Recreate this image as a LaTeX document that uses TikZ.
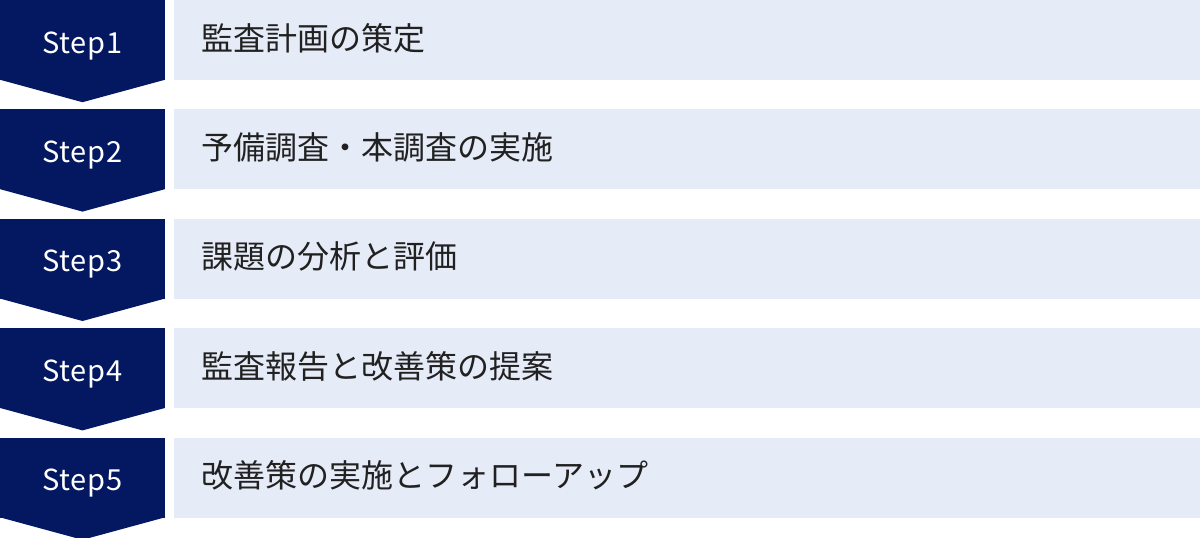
\documentclass[tikz,border=0pt]{standalone}
\usepackage{fontspec}
\setmainfont{Noto Sans CJK JP}
\usetikzlibrary{positioning, calc}
\definecolor{stepnavy}{RGB}{3,24,96}
\definecolor{taskblue}{RGB}{230,235,248}

\begin{document}
\begin{tikzpicture}[
            x=1pt, y=-1pt,
            node distance=29pt and 9pt,
            stepbox/.style={rectangle, fill=stepnavy, text=white, minimum width=165pt, minimum height=80pt, inner sep=0pt, text height=26pt, text depth=0pt, font=\fontsize{29}{34}\selectfont\addfontfeatures{LetterSpace=2.5}},
            taskbox/.style={rectangle, fill=taskblue, text=black!87, minimum height=80pt, inner xsep=27pt, inner ysep=0pt, text width=972pt, text height=24pt, text depth=4pt, align=left, font=\fontsize{32}{38}\selectfont},
            tip/.style={fill=stepnavy}
        ]
        \useasboundingbox (0,0) rectangle (1200,538);

        % Step labels down the left side
        \node[stepbox] (step1) at (82.5,40) {Step1};
        \node[stepbox, below=of step1] (step2) {Step2};
        \node[stepbox, below=of step2] (step3) {Step3};
        \node[stepbox, below=of step3] (step4) {Step4};
        \node[stepbox, below=of step4] (step5) {Step5};

        % Tasks beside each step
        \node[taskbox, right=of step1] (task1) {監査計画の策定};
        \node[taskbox, right=of step2] (task2) {予備調査・本調査の実施};
        \node[taskbox, right=of step3] (task3) {課題の分析と評価};
        \node[taskbox, right=of step4] (task4) {監査報告と改善策の提案};
        \node[taskbox, right=of step5] (task5) {改善策の実施とフォローアップ};

        % Pointed ends under the steps
        \fill[tip] ($(step1.south west)+(0,-0.5)$) -- ($(step1.south east)+(0,-0.5)$) -- ($(step1.south)+(0,22)$) -- cycle;
        \fill[tip] ($(step2.south west)+(0,-0.5)$) -- ($(step2.south east)+(0,-0.5)$) -- ($(step2.south)+(0,22)$) -- cycle;
        \fill[tip] ($(step3.south west)+(0,-0.5)$) -- ($(step3.south east)+(0,-0.5)$) -- ($(step3.south)+(0,22)$) -- cycle;
        \fill[tip] ($(step4.south west)+(0,-0.5)$) -- ($(step4.south east)+(0,-0.5)$) -- ($(step4.south)+(0,22)$) -- cycle;
        \fill[tip] ($(step5.south west)+(0,-0.5)$) -- ($(step5.south east)+(0,-0.5)$) -- ($(step5.south)+(0,22)$) -- cycle;
    \end{tikzpicture}
\end{document}
